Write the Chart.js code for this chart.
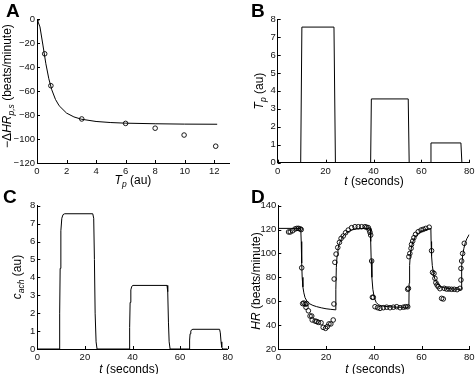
<!DOCTYPE html>
<html>
<head>
<meta charset="utf-8">
<script src="https://cdn.jsdelivr.net/npm/chart.js@4/dist/chart.umd.min.js"></script>
<style>
  body { margin: 0; background: #fff; }
  #fig { position: relative; width: 475px; height: 374px; font-family: "Liberation Sans", Arial, sans-serif; color: #000; }
  #fig canvas { position: absolute; }
  .lbl { position: absolute; font-size: 12px; white-space: nowrap; transform: translate(-50%, -50%); line-height: 1; }
  .rot { transform: translate(-50%, -50%) rotate(-90deg); }
  .lbl sub { font-size: 8.5px; vertical-align: -3px; }
  .panel { position: absolute; font-weight: bold; font-size: 19px; line-height: 1; }
</style>
</head>
<body>
<div id="fig">
  <canvas id="chartA" width="237" height="185" style="left:0;top:0"></canvas>
  <canvas id="chartB" width="238" height="185" style="left:237px;top:0"></canvas>
  <canvas id="chartC" width="237" height="189" style="left:0;top:185px"></canvas>
  <canvas id="chartD" width="238" height="189" style="left:237px;top:185px"></canvas>

  <div class="panel" style="left:6px;top:1px">A</div>
  <div class="panel" style="left:251px;top:1px">B</div>
  <div class="panel" style="left:3px;top:187px">C</div>
  <div class="panel" style="left:251px;top:187px">D</div>

  <div class="lbl rot" style="left:8px;top:86px">&minus;&Delta;<i>HR</i><sub><i>p,s</i></sub> (beats/minute)</div>
  <div class="lbl" style="left:133px;top:181px"><i>T</i><sub><i>p</i></sub> (au)</div>
  <div class="lbl rot" style="left:260px;top:91px"><i>T</i><sub><i>p</i></sub> (au)</div>
  <div class="lbl" style="left:374px;top:181px"><i>t</i> (seconds)</div>
  <div class="lbl rot" style="left:18px;top:277px"><i>c</i><sub><i>ach</i></sub> (au)</div>
  <div class="lbl" style="left:129px;top:369px"><i>t</i> (seconds)</div>
  <div class="lbl rot" style="left:256px;top:281px"><i>HR</i> (beats/minute)</div>
  <div class="lbl" style="left:375px;top:369px"><i>t</i> (seconds)</div>
</div>

<script>
// Panel A - steady state response vs Tp
const aFitTp = [0, 0.2, 0.4, 0.6, 0.8, 1.0, 1.25, 1.5, 2.0, 2.5, 3.0, 4.0, 5.0, 6.0, 8.0, 10.0, 12.2];
const aFitDHR = [0, -6.6, -21.7, -37.3, -49.8, -59, -67, -72.3, -78.4, -81.6, -83.5, -85.4, -86.3, -86.8, -87.3, -87.6, -87.7];
const aObsTp = [0, 0.52, 0.94, 3.03, 6.0, 8.0, 9.96, 12.1];
const aObsDHR = [0, -29, -55.6, -83.3, -87, -91, -96.7, -106];
const aTicksX = [0, 2, 4, 6, 8, 10, 12];
const aTicksY = [-120, -100, -80, -60, -40, -20, 0];

// Panel B - Tp input pulses
const bTime = [0, 9.6, 10.1, 23.5, 24.1, 38.8, 39.1, 54.5, 54.9, 63.6, 64.0, 76.5, 76.9, 80];
const bTp = [0, 0, 7.55, 7.55, 0, 0, 3.55, 3.55, 0, 0, 1.1, 1.1, 0, 0];

// Panel C - acetylcholine concentration
const cTime = [0, 9.2, 9.4, 9.6, 9.9, 10.3, 10.8, 11.5, 23.3, 23.7, 24.0, 24.3, 24.7, 25.1,
  38.6, 38.8, 39.0, 39.3, 39.7, 40.2, 54.5, 54.8, 55.1, 55.4, 55.8,
  63.8, 64.0, 64.2, 64.5, 64.9, 65.4, 76.6, 76.9, 77.2, 77.5, 77.9, 80];
const cAch = [0, 0, 2.0, 4.5, 6.6, 7.3, 7.5, 7.55, 7.55, 7.3, 5.0, 2.0, 0.4, 0,
  0, 1.2, 2.6, 3.3, 3.5, 3.55, 3.55, 3.2, 1.5, 0.4, 0,
  0, 0.5, 0.85, 1.0, 1.08, 1.1, 1.1, 0.9, 0.4, 0.1, 0, 0];
const timeTicks = [0, 20, 40, 60, 80];
const tpTicks = [0, 1, 2, 3, 4, 5, 6, 7, 8];

// Panel D - heart rate, model and measured
const dModelT = [0, 9.4, 9.6, 9.8, 10.0, 10.3, 10.7, 11.2, 12, 13, 14.5, 16, 18, 20, 22, 24,
  24.1, 24.3, 24.6, 25, 25.6, 26.5, 27.5, 29, 31, 33, 36, 38.6,
  38.7, 38.9, 39.2, 39.6, 40.2, 41, 42, 43.5, 46, 50, 54.7,
  54.8, 55, 55.3, 55.8, 56.5, 57.5, 59, 61, 63.9,
  64.0, 64.2, 64.5, 65, 65.6, 66.5, 67.5, 69, 71, 73, 76.6,
  76.7, 76.9, 77.2, 77.7, 78.3, 79, 80];
const dModelHR = [121, 121, 110, 92, 80, 72, 67, 63, 60, 58, 56.5, 55.5, 54.5, 53.7, 53.2, 52.8,
  70, 88, 98, 104, 108.5, 112.5, 115.5, 118, 119.8, 120.6, 121, 121.2,
  110, 95, 80, 70, 63, 59, 57, 56, 55.4, 55, 55,
  75, 90, 99, 105.5, 110.5, 114.5, 117.5, 119.5, 121,
  110, 98, 90, 83, 78.5, 75, 73, 71.5, 70.6, 70.2, 70,
  80, 90, 98, 104, 109, 112.5, 116];
const dObsT = [4.3, 5.0, 6.0, 7.0, 7.8, 8.5, 9.2, 9.6, 9.8, 10.2, 10.7, 11.3, 11.9, 11.6, 12.6,
  13.3, 14.0, 14.2, 15.4, 16.1, 16.8, 17.9, 18.8, 19.8, 20.5, 21.2, 22.0, 23.0,
  23.3, 23.4, 23.7, 24.2, 24.9, 25.6, 26.3, 27.2, 28.2, 29.3, 30.7, 32.1, 33.5, 34.9, 36.3,
  37.0, 37.7, 38.1, 38.4, 38.7, 39.1, 39.4, 39.8, 40.5, 41.6, 42.6, 44.0, 45.4, 46.8, 48.2,
  49.6, 51.0, 52.4, 53.3, 54.2, 54.2, 54.5, 54.7, 55.1, 55.6, 55.8, 56.3, 56.8, 57.5, 58.6,
  59.8, 60.7, 61.8, 63.2, 64.2, 64.6, 65.2, 65.6, 66.0, 66.5, 67.0, 67.7, 68.4, 69.1, 69.5,
  70.5, 71.5, 72.6, 73.7, 74.9, 76.1, 76.5, 76.5, 76.8, 77.2, 77.9];
const dObsHR = [118, 118, 119, 120.5, 121, 121, 120.5, 120, 88, 58, 58.5, 57.5, 58, 55, 52,
  47.6, 47.6, 44.3, 43.4, 43, 42.3, 42, 38.1, 37.3, 38.7, 41, 41, 44.3,
  57.7, 78.6, 92.6, 99.5, 105, 109.3, 112.6, 114.6, 117.4, 119.6, 121.6, 122.4, 122.4, 122.4, 122.4,
  122, 121.6, 119.6, 117.7, 115.4, 93.7, 63.3, 63.3, 55.4, 54.6, 54, 54.6, 55, 54.6, 55,
  55.4, 54.6, 55, 55.4, 55.4, 70, 70.8, 97.3, 100, 104.3, 107.6, 110.4, 113.2, 116, 118.2,
  119.6, 120.2, 121, 122, 102.3, 84.2, 83.3, 79.2, 75.5, 73.6, 72.2, 70.5, 62.4, 61.9, 70.8,
  70.2, 70.2, 70, 70, 69.7, 70.8, 77.8, 87.5, 93.7, 100, 108.5];
const hrTicks = [20, 40, 60, 80, 100, 120, 140];

function zip(xs, ys) {
    return xs.map((x, i) => ({ x: x, y: ys[i] }));
}

function lineSet(data) {
    return {
        data: data, showLine: true, borderColor: '#000', borderWidth: 1,
        pointRadius: 0, fill: false, tension: 0
    };
}

function circleSet(data) {
    return {
        data: data, showLine: false, pointStyle: 'circle', pointRadius: 2.3,
        borderColor: '#000', borderWidth: 0.9, backgroundColor: 'rgba(0,0,0,0)'
    };
}

// small inward tick marks, like the original figure
const inwardTicks = {
    id: 'inwardTicks',
    afterDraw(chart) {
        const ctx = chart.ctx;
        const area = chart.chartArea;
        ctx.save();
        ctx.strokeStyle = '#000';
        ctx.lineWidth = 1;
        ctx.beginPath();
        chart.scales.x.ticks.forEach(t => {
            const px = Math.round(chart.scales.x.getPixelForValue(t.value)) + 0.5;
            ctx.moveTo(px, area.bottom);
            ctx.lineTo(px, area.bottom - 3);
        });
        chart.scales.y.ticks.forEach(t => {
            const py = Math.round(chart.scales.y.getPixelForValue(t.value)) + 0.5;
            ctx.moveTo(area.left, py);
            ctx.lineTo(area.left + 3, py);
        });
        ctx.stroke();
        ctx.restore();
    }
};

// axis with fixed size so the plot area lands where the reference has it
function axis(min, max, tickValues, size, isX) {
    return {
        type: 'linear', min: min, max: max,
        afterBuildTicks: s => { s.ticks = tickValues.map(v => ({ value: v })); },
        afterFit: s => {
            if (isX) { s.height = size; s.paddingLeft = 0; s.paddingRight = 0; }
            else { s.width = size; s.paddingTop = 0; s.paddingBottom = 0; }
        },
        border: { display: true, color: '#000', width: 1 },
        grid: { display: false, drawTicks: false },
        ticks: {
            color: '#111', padding: isX ? 3 : 2, maxRotation: 0, autoSkip: false,
            font: { family: 'Liberation Sans, Arial, sans-serif', size: 9.5 },
            callback: v => (v < 0 ? '\u2212' + Math.abs(v) : String(v))
        }
    };
}

function makeChart(id, datasets, xs, ys, padding) {
    new Chart(document.getElementById(id), {
        type: 'scatter',
        data: { datasets: datasets },
        options: {
            responsive: false,
            animation: false,
            devicePixelRatio: 1,
            layout: { padding: padding },
            plugins: { legend: { display: false }, tooltip: { enabled: false } },
            scales: { x: xs, y: ys }
        },
        plugins: [inwardTicks]
    });
}

makeChart('chartA',
    [lineSet(zip(aFitTp, aFitDHR)), circleSet(zip(aObsTp, aObsDHR))],
    axis(0, 13, aTicksX, 22, true),
    axis(-120, 0, aTicksY, 37, false),
    { left: 0, top: 19, right: 8, bottom: 0 });

makeChart('chartB',
    [lineSet(zip(bTime, bTp))],
    axis(0, 80, timeTicks, 22.3, true),
    axis(0, 8, tpTicks, 40.7, false),
    { left: 0, top: 19, right: 5.7, bottom: 0 });

makeChart('chartC',
    [lineSet(zip(cTime, cAch))],
    axis(0, 80, timeTicks, 25, true),
    axis(0, 8, tpTicks, 37.3, false),
    { left: 0, top: 20.7, right: 9.3, bottom: 0 });

makeChart('chartD',
    [lineSet(zip(dModelT, dModelHR)), circleSet(zip(dObsT, dObsHR))],
    axis(0, 80, timeTicks, 25, true),
    axis(20, 140, hrTicks, 41.3, false),
    { left: 0, top: 20.7, right: 5.7, bottom: 0 });
</script>
</body>
</html>
